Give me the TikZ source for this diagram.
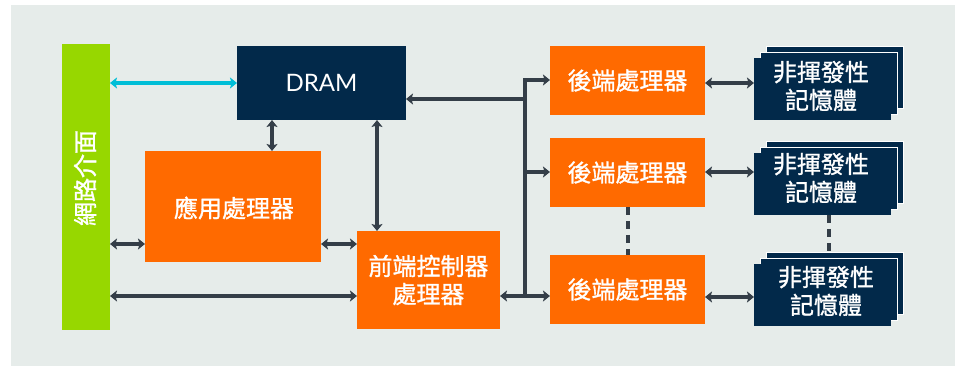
\documentclass[tikz,border=0pt]{standalone}
\usepackage{fontspec}
\setmainfont{Lato}
\newfontfamily\cjk[FakeBold=1.2]{Noto Sans CJK TC}
\usetikzlibrary{arrows.meta}
\definecolor{bgc}{RGB}{230,236,234}
\definecolor{orng}{RGB}{255,106,0}
\definecolor{navy}{RGB}{2,41,74}
\definecolor{grn}{RGB}{151,215,0}
\definecolor{arr}{RGB}{52,62,72}
\definecolor{cyn}{RGB}{0,190,215}
\tikzset{
  blk/.style={inner sep=0pt, outer sep=0pt, text=white, align=center},
  cjkf/.style={font=\cjk\fontsize{24}{28}\selectfont},
  obox/.style={blk, fill=orng, cjkf},
  nbox/.style={blk, fill=navy, cjkf},
  lbl/.style={text=white, cjkf, align=center, inner sep=0pt},
  link/.style={draw=arr, line width=3.5pt, -{Stealth[length=7pt,width=11pt,inset=1.5pt]}},
  dlink/.style={draw=arr, line width=3.5pt, {Stealth[length=7pt,width=11pt,inset=1.5pt]}-{Stealth[length=7pt,width=11pt,inset=1.5pt]}},
  dashln/.style={draw=arr, line width=3.5pt, dash pattern=on 8pt off 6pt},
}
\begin{document}
\begin{tikzpicture}[x=1pt,y=-1pt]
\useasboundingbox (0,0) rectangle (961,366);
\fill[bgc] (11,5) rectangle (955,366);
% network interface
\node[blk, fill=grn, minimum width=48pt, minimum height=286pt] (net) at (86,187) {};
\node[lbl, rotate=90] (netlbl) at (85,178) {網路介面};
% DRAM
\node[blk, fill=navy, minimum width=169pt, minimum height=74pt, font=\fontsize{24}{28}\selectfont] (dram) at (321.5,83) {DRAM};
% app processor
\node[obox, minimum width=176pt, minimum height=111pt] (app) at (233,206.5) {};
\node[lbl] (applbl) at (234,208) {應用處理器};
% front-end controller
\node[obox, minimum width=143pt, minimum height=98pt] (fe) at (428.5,280) {前端控制器\\處理器};
% backend processors
\node[obox, minimum width=155pt, minimum height=69pt] (be1) at (627.5,80.5) {後端處理器};
\node[obox, minimum width=155pt, minimum height=69pt] (be2) at (627.5,172.5) {後端處理器};
\node[obox, minimum width=155pt, minimum height=69pt] (be3) at (627.5,289.5) {後端處理器};
% NVM stacks
\foreach \n/\cy in {1/89, 2/184, 3/295} {
  \node[nbox, draw=white, line width=0.8pt, minimum width=137pt, minimum height=62pt] (nvm\n c) at (834.5,\cy-12) {};
  \node[nbox, draw=white, line width=0.8pt, minimum width=137pt, minimum height=62pt] (nvm\n b) at (828.5,\cy-6) {};
  \node[nbox, minimum width=137pt, minimum height=62pt] (nvm\n) at (822.5,\cy) {};
}
\node[lbl] (t1) at (821,86) {非揮發性\\記憶體};
\node[lbl] (t2) at (821,178) {非揮發性\\記憶體};
\node[lbl] (t3) at (826,291) {非揮發性\\記憶體};
% connectors
\draw[draw=cyn, line width=3.5pt, {Stealth[length=7pt,width=11pt,inset=1.5pt]}-{Stealth[length=7pt,width=11pt,inset=1.5pt]}] (net.east |- 0,83) -- (dram.west |- 0,83);
\draw[dlink] (272,120) -- (272,151);
\draw[dlink] (377,120) -- (377,231);
\draw[dlink] (net.east |- 0,244) -- (app.west |- 0,244);
\draw[dlink] (app.east |- 0,244) -- (fe.west |- 0,244);
\draw[dlink] (net.east |- 0,296) -- (fe.west |- 0,296);
\coordinate (bt) at (525,80);
\coordinate (bb) at (525,296);
\coordinate (bd) at (525,99);
\draw[draw=arr, line width=3.5pt] (bt) -- (bb);
\draw[link] ([xshift=-1.75pt]bt) -- (be1.west |- bt);
\draw[link] (bd) -- (dram.east |- bd);
\draw[link] (525,172) -- (be2.west |- 0,172);
\draw[dlink] (fe.east |- 0,296) -- (be3.west |- 0,296);
\draw[dlink] (be1.east |- 0,83) -- (nvm1.west |- 0,83);
\draw[dlink] (be2.east |- 0,172) -- (nvm2.west |- 0,172);
\draw[dlink] (be3.east |- 0,297) -- (nvm3.west |- 0,297);
\draw[dashln] (be2.south -| 628,0) -- (be3.north -| 628,0);
\draw[dashln] (nvm2.south -| 829,0) -- (nvm3c.north -| 829,0);
\end{tikzpicture}
\end{document}
